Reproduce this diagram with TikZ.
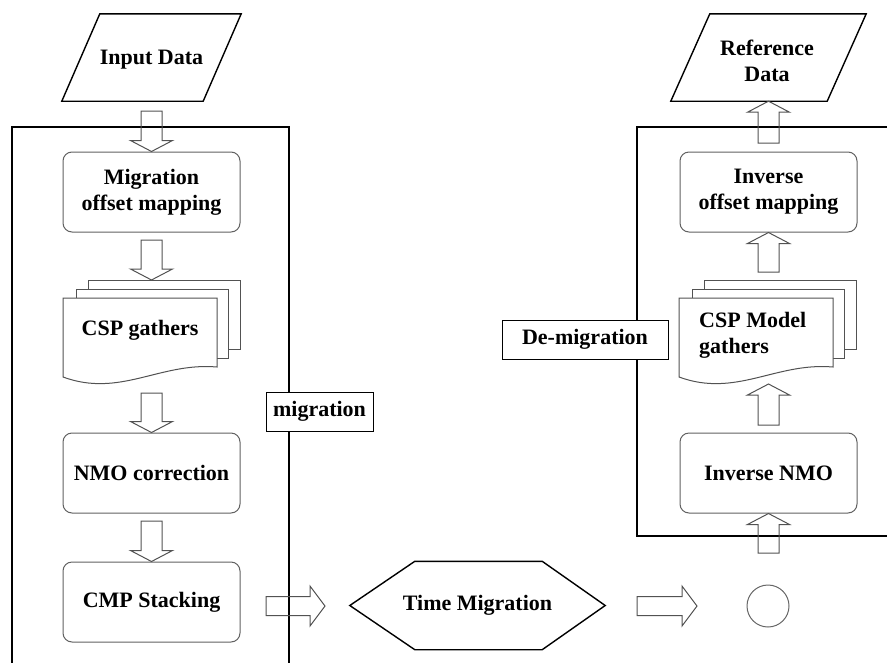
\documentclass[tikz,border=0pt]{standalone}
\usepackage{fontspec}
\setmainfont{Liberation Serif}
\usetikzlibrary{calc}

% hollow block arrow: start, tip, head length, shaft half width, head half width
\newcommand{\blockarrow}[5]{%
  \coordinate (ba-hb) at ($(#2)!#3!(#1)$);
  \draw[barrow] ($(#1)!#4!90:(#2)$) -- ($(ba-hb)!#4!90:(#2)$) -- ($(ba-hb)!#5!90:(#2)$)
    -- (#2) -- ($(ba-hb)!#5!-90:(#2)$) -- ($(ba-hb)!#4!-90:(#2)$) -- ($(#1)!#4!-90:(#2)$) -- cycle;}
\newcommand{\varrow}[2]{\blockarrow{#1}{#2}{11pt}{10.5pt}{21pt}}
\newcommand{\harrow}[2]{\blockarrow{#1}{#2}{15pt}{9.5pt}{20pt}}

% stacked document symbol; #1 = x of the front sheet's left edge
\newcommand{\docstack}[1]{%
  \draw[sheet] (#1+25,280) rectangle (#1+177,349);
  \draw[sheet] (#1+13,289) rectangle (#1+165,358);
  \draw[sheet] (#1,298) -- (#1+154,298) -- (#1+154,367)
    .. controls (#1+97,362) and (#1+57,398) .. (#1,377) -- cycle;}

\begin{document}
\begin{tikzpicture}[x=1pt,y=-1pt,
  every node/.style={font=\fontsize{22}{26}\selectfont\bfseries},
  frame/.style={line width=2pt,black},
  proc/.style={draw=black!62,line width=1pt,rounded corners=9pt,fill=white,
    minimum width=177pt,minimum height=80pt,inner sep=0pt,align=center},
  sheet/.style={draw=black!68,line width=1pt,fill=white},
  barrow/.style={draw=black!68,line width=1pt},
  tag/.style={draw=black,line width=1pt,fill=white,inner sep=0pt,minimum height=39pt},
  io/.style={line width=1.4pt,black},
  plain/.style={inner sep=0pt,align=center}]

\useasboundingbox (0,0) rectangle (887,662);
\clip (0,0) rectangle (887,662);

% enclosing frames
\draw[frame] (12,664) -- (12,127) -- (289,127) -- (289,664);
\draw[frame] (890,127) -- (637,127) -- (637,536) -- (890,536);

% input / output data
\node[plain,minimum width=179pt,minimum height=87pt] (inp) at (151.5,57.5) {};
\draw[io] ($(inp.north west)+(38,0)$) -- (inp.north east) -- ($(inp.south east)+(-38,0)$) -- (inp.south west) -- cycle;
\node[plain] at (151.5,60) {Input Data};

\node[plain,minimum width=195pt,minimum height=87pt] (ref) at (768.5,57.5) {};
\draw[io] ($(ref.north west)+(39,0)$) -- (ref.north east) -- ($(ref.south east)+(-39,0)$) -- (ref.south west) -- cycle;
\node[plain] at (767,61) {Reference\\Data};

% migration branch
\node[proc] (mig) at (151.5,192) {Migration\\offset mapping};
\docstack{63}
\node[plain] (csp) at (140,330) {CSP gathers};
\node[proc] (nmo) at (151.5,473) {NMO correction};
\node[proc] (cmp) at (151.5,602) {CMP Stacking};

% time migration
\node[plain,minimum width=255pt,minimum height=88pt] (tm) at (477.5,605.5) {Time Migration};
\draw[io] (tm.west) -- ($(tm.north west)+(65,0)$) -- ($(tm.north east)+(-63,0)$) -- (tm.east)
  -- ($(tm.south east)+(-63,0)$) -- ($(tm.south west)+(65,0)$) -- cycle;
\node[draw=black!60,line width=1pt,circle,minimum size=42pt,inner sep=0pt] (circ) at (768,606) {};

% de-migration branch
\node[proc] (inmo) at (768.5,473) {Inverse NMO};
\docstack{679}
\node[plain,align=left,anchor=west] (cspm) at (699,335) {CSP Model\\gathers};
\node[proc] (ioff) at (768.5,192) {Inverse\\offset mapping};

% frame labels
\node[tag,minimum width=107pt] (lmig) at (319.5,411.5) {migration};
\node[tag,minimum width=166pt] (ldemig) at (585,339.5) {De-migration};

% flow arrows
\coordinate (a1) at (151.5,111);
\coordinate (a2) at (151.5,240);
\coordinate (a2t) at (151.5,280);
\coordinate (a3) at (151.5,393);
\coordinate (a4) at (151.5,521);
\coordinate (a5) at (266,606);
\coordinate (a5t) at (325,606);
\coordinate (a6) at (637,606);
\coordinate (a6t) at (697,606);
\coordinate (a7) at (768.5,553);
\coordinate (a8) at (768.5,425);
\coordinate (a8t) at (768.5,384);
\coordinate (a9) at (768.5,272);
\coordinate (a10) at (768.5,143);

\varrow{a1}{mig.north}
\varrow{a2}{a2t}
\varrow{a3}{nmo.north}
\varrow{a4}{cmp.north}
\harrow{a5}{a5t}
\harrow{a6}{a6t}
\varrow{a7}{inmo.south}
\varrow{a8}{a8t}
\varrow{a9}{ioff.south}
\varrow{a10}{ref.south}
\end{tikzpicture}
\end{document}
